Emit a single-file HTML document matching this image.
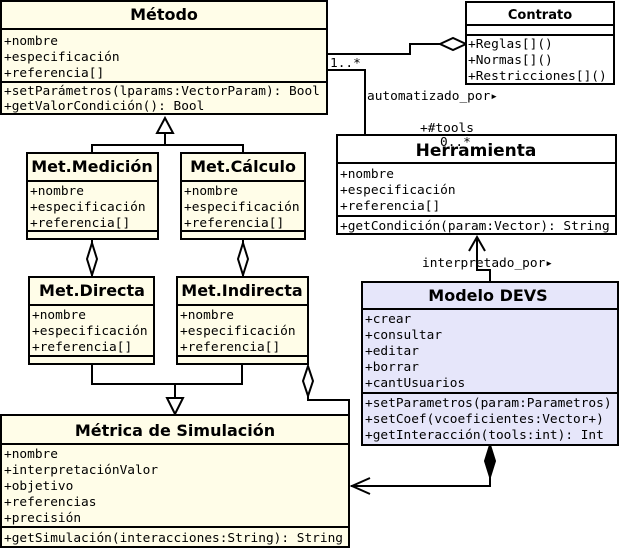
<!DOCTYPE html>
<html><head><meta charset="utf-8"><style>
html,body{margin:0;padding:0;background:#fff;}
svg{display:block}
.t{font-family:"DejaVu Sans","Liberation Sans",sans-serif;font-weight:bold;font-size:16px;text-anchor:middle}
.m{font-family:"DejaVu Sans Mono","Liberation Mono",monospace;font-size:12.8px}
.b{stroke:#000;stroke-width:2;fill:#fffde8}
.l{stroke:#000;stroke-width:2;fill:none}
</style></head><body>
<svg width="620" height="550" xmlns="http://www.w3.org/2000/svg">
<polyline class="l" points="327,54 410,54 410,44 440,44"/>
<polygon points="440,44 453,38 466,44 453,50" fill="#fff" stroke="#000" stroke-width="2"/>
<polyline class="l" points="327,70 365,70 365,135"/>
<text class="m" x="330" y="67">1..*</text>
<text class="m" x="367" y="100">automatizado_por▸</text>
<text class="m" x="420" y="132">+#tools</text>
<polyline class="l" points="490,282 490,270 477,270 477,238"/>
<polyline class="l" points="469,251 477,237 485,251"/>
<text class="m" x="422" y="267">interpretado_por▸</text>
<polyline class="l" points="92,153 92,145 243,145 243,153"/>
<line class="l" x1="165" y1="145" x2="165" y2="133"/>
<polygon points="165,118 157,133 173,133" fill="#fff" stroke="#000" stroke-width="2"/>
<line class="l" x1="92" y1="240" x2="92" y2="277"/>
<polygon points="92,243 97,259 92,275 87,259" fill="#fff" stroke="#000" stroke-width="2"/>
<line class="l" x1="243" y1="240" x2="243" y2="277"/>
<polygon points="243,243 248,259 243,275 238,259" fill="#fff" stroke="#000" stroke-width="2"/>
<polyline class="l" points="92,364 92,384 242,384 242,364"/>
<line class="l" x1="175" y1="384" x2="175" y2="398"/>
<polygon points="175,414 167,398 183,398" fill="#fff" stroke="#000" stroke-width="2"/>
<polyline class="l" points="308,396 308,400 349,400 349,415"/>
<polygon points="308,366 313,381 308,396 303,381" fill="#fff" stroke="#000" stroke-width="2"/>
<polyline class="l" points="490,445 490,486 351,486"/>
<polygon points="490,445 495,461 490,477 485,461" fill="#000" stroke="#000" stroke-width="2"/>
<polyline class="l" points="370,478 352,486 370,494"/>

<rect class="b" x="1" y="1" width="326" height="113"/>
<line class="l" x1="1" y1="29" x2="327" y2="29"/>
<line class="l" x1="1" y1="82" x2="327" y2="82"/>
<text class="t" x="164" y="20">Método</text>
<text class="m" x="4" y="45">+nombre</text>
<text class="m" x="4" y="61">+especificación</text>
<text class="m" x="4" y="77">+referencia[]</text>
<text class="m" x="4" y="95">+setParámetros(lparams:VectorParam): Bool</text>
<text class="m" x="4" y="110">+getValorCondición(): Bool</text>

<rect x="466" y="2" width="148" height="82" fill="#fff" stroke="#000" stroke-width="2"/>
<line class="l" x1="466" y1="25" x2="614" y2="25"/>
<line class="l" x1="466" y1="35" x2="614" y2="35"/>
<text class="t" x="540" y="19" style="font-size:13px">Contrato</text>
<text class="m" x="468" y="48">+Reglas[]()</text>
<text class="m" x="468" y="64">+Normas[]()</text>
<text class="m" x="468" y="80">+Restricciones[]()</text>

<rect x="337" y="135" width="279" height="99" fill="#fff" stroke="#000" stroke-width="2"/>
<line class="l" x1="337" y1="163" x2="616" y2="163"/>
<line class="l" x1="337" y1="216" x2="616" y2="216"/>
<text class="t" x="476" y="156" style="font-size:17px">Herramienta</text>
<text class="m" x="440" y="146">0..*</text>
<text class="m" x="340" y="178">+nombre</text>
<text class="m" x="340" y="194">+especificación</text>
<text class="m" x="340" y="210">+referencia[]</text>
<text class="m" x="340" y="230">+getCondición(param:Vector): String</text>

<rect class="b" x="27" y="153" width="131" height="86"/>
<line class="l" x1="27" y1="181" x2="158" y2="181"/>
<line class="l" x1="27" y1="231" x2="158" y2="231"/>
<text class="t" x="92" y="172">Met.Medición</text>
<text class="m" x="30" y="195">+nombre</text>
<text class="m" x="30" y="211">+especificación</text>
<text class="m" x="30" y="227">+referencia[]</text>

<rect class="b" x="181" y="153" width="124" height="86"/>
<line class="l" x1="181" y1="181" x2="305" y2="181"/>
<line class="l" x1="181" y1="231" x2="305" y2="231"/>
<text class="t" x="243" y="172">Met.Cálculo</text>
<text class="m" x="184" y="195">+nombre</text>
<text class="m" x="184" y="211">+especificación</text>
<text class="m" x="184" y="227">+referencia[]</text>

<rect class="b" x="29" y="277" width="125" height="87"/>
<line class="l" x1="29" y1="305" x2="154" y2="305"/>
<line class="l" x1="29" y1="356" x2="154" y2="356"/>
<text class="t" x="92" y="296">Met.Directa</text>
<text class="m" x="32" y="319">+nombre</text>
<text class="m" x="32" y="335">+especificación</text>
<text class="m" x="32" y="351">+referencia[]</text>

<rect class="b" x="177" y="277" width="131" height="87"/>
<line class="l" x1="177" y1="305" x2="308" y2="305"/>
<line class="l" x1="177" y1="356" x2="308" y2="356"/>
<text class="t" x="242" y="296">Met.Indirecta</text>
<text class="m" x="180" y="319">+nombre</text>
<text class="m" x="180" y="335">+especificación</text>
<text class="m" x="180" y="351">+referencia[]</text>

<rect x="362" y="282" width="256" height="163" fill="#e6e6fa" stroke="#000" stroke-width="2"/>
<line class="l" x1="362" y1="309" x2="618" y2="309"/>
<line class="l" x1="362" y1="393" x2="618" y2="393"/>
<text class="t" x="488" y="301">Modelo DEVS</text>
<text class="m" x="365" y="323">+crear</text>
<text class="m" x="365" y="339">+consultar</text>
<text class="m" x="365" y="355">+editar</text>
<text class="m" x="365" y="371">+borrar</text>
<text class="m" x="365" y="387">+cantUsuarios</text>
<text class="m" x="365" y="407">+setParametros(param:Parametros)</text>
<text class="m" x="365" y="423">+setCoef(vcoeficientes:Vector+)</text>
<text class="m" x="365" y="439">+getInteracción(tools:int): Int</text>

<rect class="b" x="1" y="415" width="348" height="132"/>
<line class="l" x1="1" y1="444" x2="349" y2="444"/>
<line class="l" x1="1" y1="527" x2="349" y2="527"/>
<text class="t" x="175" y="436">Métrica de Simulación</text>
<text class="m" x="4" y="458">+nombre</text>
<text class="m" x="4" y="474">+interpretaciónValor</text>
<text class="m" x="4" y="490">+objetivo</text>
<text class="m" x="4" y="506">+referencias</text>
<text class="m" x="4" y="522">+precisión</text>
<text class="m" x="4" y="542">+getSimulación(interacciones:String): String</text>
</svg>
</body></html>
